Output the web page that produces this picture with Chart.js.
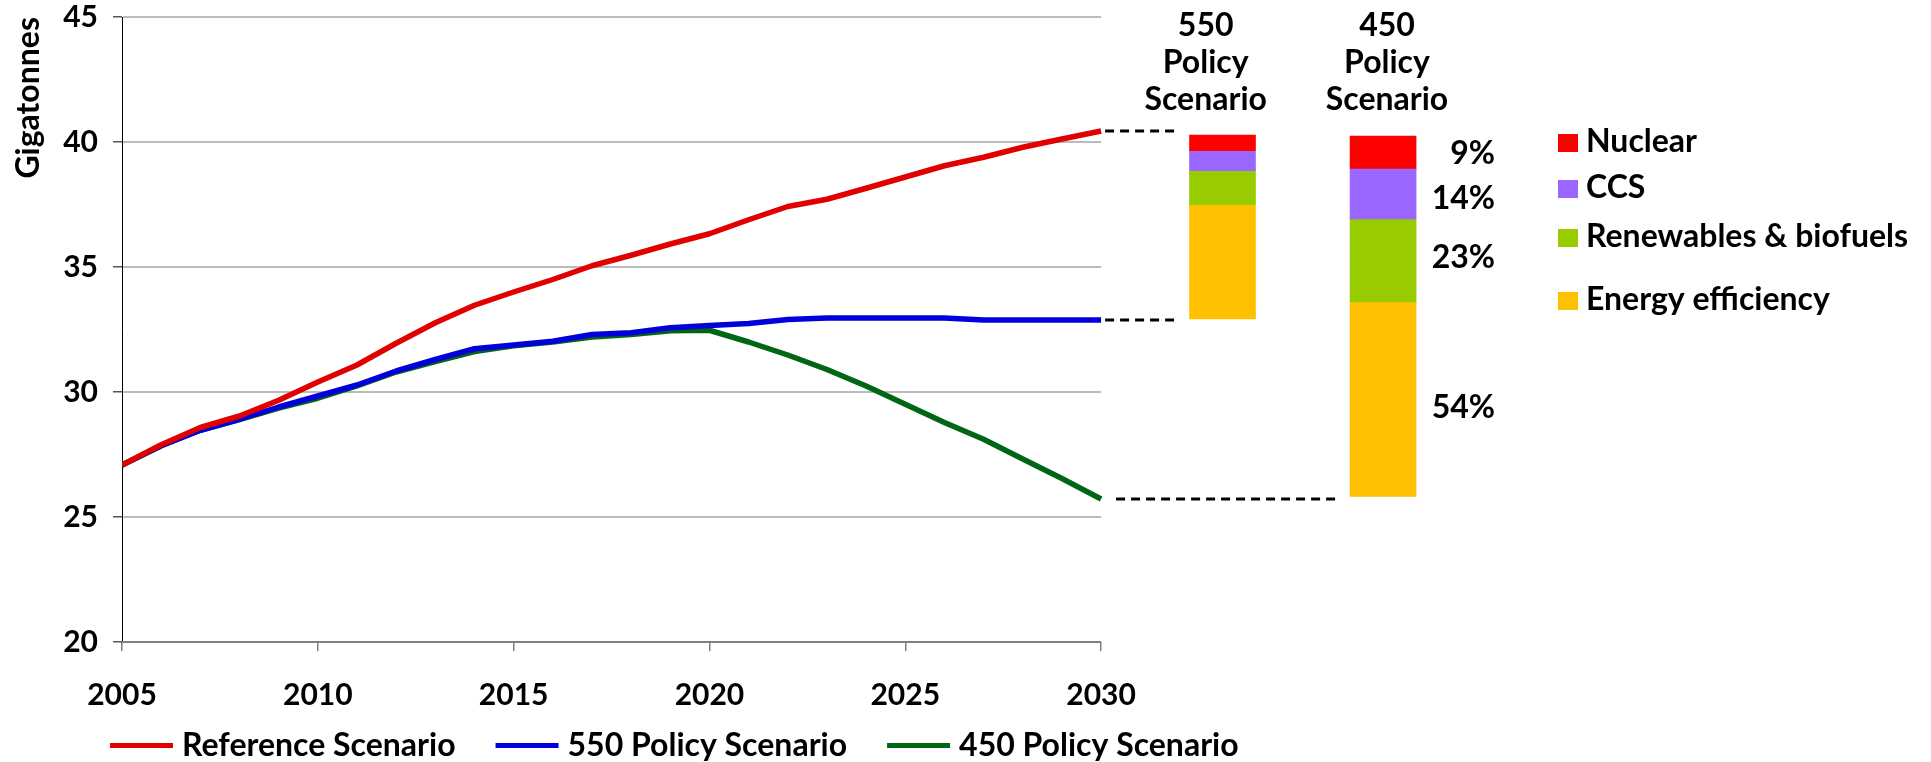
<!DOCTYPE html>
<html>
<head>
<meta charset="utf-8">
<script src="https://cdn.jsdelivr.net/npm/chart.js@4.4.1/dist/chart.umd.min.js"></script>
<style>
  html, body { margin: 0; padding: 0; background: #fff; }
  #wrap { width: 1931px; height: 762px; }
</style>
</head>
<body>
<div id="wrap"><canvas id="c" width="1931" height="762"></canvas></div>
<script>
// Energy-related CO2 emissions, Gt
const years = [2005, 2006, 2007, 2008, 2009, 2010, 2011, 2012, 2013, 2014, 2015, 2016, 2017,
               2018, 2019, 2020, 2021, 2022, 2023, 2024, 2025, 2026, 2027, 2028, 2029, 2030];
const referenceScenario = [27.08, 27.89, 28.58, 29.04, 29.67, 30.40, 31.08, 31.95, 32.77, 33.47, 34.00, 34.50, 35.05,
                           35.47, 35.92, 36.33, 36.89, 37.42, 37.71, 38.15, 38.60, 39.05, 39.39, 39.79, 40.12, 40.44];
const policy550 = [27.08, 27.85, 28.47, 28.91, 29.40, 29.84, 30.28, 30.84, 31.30, 31.73, 31.88, 32.03, 32.30,
                   32.37, 32.57, 32.66, 32.74, 32.90, 32.96, 32.96, 32.96, 32.96, 32.88, 32.88, 32.88, 32.88];
const policy450 = [27.08, 27.85, 28.47, 28.90, 29.36, 29.75, 30.24, 30.80, 31.22, 31.62, 31.85, 32.00, 32.20,
                   32.30, 32.45, 32.47, 32.00, 31.48, 30.90, 30.24, 29.51, 28.78, 28.11, 27.32, 26.54, 25.72];
const seriesNames = ['Reference Scenario', '550 Policy Scenario', '450 Policy Scenario'];

// 2030 abatement by measure (top to bottom of each bar)
const wedgeNames = ['Nuclear', 'CCS', 'Renewables & biofuels', 'Energy efficiency'];
const savings550 = [0.63, 0.80, 1.36, 4.57];      // Gt
const share450 = [9, 14, 23, 54];                  // % of 450 savings
const total450 = 14.42;                            // Gt
const barBase = [32.92, 25.82];                    // Gt, bottom of each bar
const barTitles = [['550', 'Policy', 'Scenario'], ['450', 'Policy', 'Scenario']];

// y axis ticks
const Y_MIN = 20, Y_MAX = 45, Y_STEP = 5;
const X_STEP = 5;

// ---- styling / layout ----
const FONT = 'Lato, "Open Sans", sans-serif';
const WORD_FONT = 'bold 32px ' + FONT;
const lineColors = ['#E00000', '#0000DD', '#006614'];
const wedgeColors = ['#FF0000', '#9966FF', '#99CC00', '#FFC000'];
const BAR_X = [2033.1, 2037.2];        // bar slots on the year axis
const HEAD_X = [2032.67, 2037.3];      // header centres on the year axis
const BAR_W = 66;

function stackRanges(base, amounts) {
  const out = new Array(amounts.length);
  let lo = base;
  for (let i = amounts.length - 1; i >= 0; i--) {
    out[i] = [lo, lo + amounts[i]];
    lo += amounts[i];
  }
  return out;
}
const ranges550 = stackRanges(barBase[0], savings550);
const ranges450 = stackRanges(barBase[1], share450.map(p => p / 100 * total450));

const lineSeries = [referenceScenario, policy550, policy450];
const lineDatasets = lineSeries.map((vals, k) => ({
  type: 'line',
  label: seriesNames[k],
  data: years.map((yr, i) => ({ x: yr, y: vals[i] })),
  borderColor: lineColors[k],
  backgroundColor: lineColors[k],
  borderWidth: 5.5,
  pointRadius: 0,
  tension: 0,
  fill: false,
  borderJoinStyle: 'round'
}));
const barDatasets = wedgeNames.map((name, i) => ({
  type: 'bar',
  label: name,
  data: [{ x: BAR_X[0], y: ranges550[i] }, { x: BAR_X[1], y: ranges450[i] }],
  backgroundColor: wedgeColors[i],
  borderWidth: 0,
  barThickness: BAR_W,
  grouped: false
}));

const decor = {
  id: 'decor',
  beforeDatasetsDraw(chart) {
    const { ctx, chartArea, scales: { x, y } } = chart;
    const xEnd = x.getPixelForValue(years[years.length - 1]);
    ctx.save();
    ctx.strokeStyle = '#A6A6A6';
    ctx.lineWidth = 1.5;
    for (let v = Y_MIN + Y_STEP; v <= Y_MAX; v += Y_STEP) {
      const py = y.getPixelForValue(v);
      ctx.beginPath();
      ctx.moveTo(chartArea.left + 1, py);
      ctx.lineTo(xEnd, py);
      ctx.stroke();
    }
    ctx.strokeStyle = '#808080';
    ctx.lineWidth = 2;
    const pb = y.getPixelForValue(Y_MIN);
    ctx.beginPath();
    ctx.moveTo(chartArea.left, pb);
    ctx.lineTo(xEnd, pb);
    ctx.stroke();
    ctx.restore();
  },
  afterDatasetsDraw(chart) {
    const { ctx, scales: { x, y } } = chart;
    const xEnd = x.getPixelForValue(years[years.length - 1]);
    const last = years.length - 1;
    const left550 = x.getPixelForValue(BAR_X[0]) - BAR_W / 2;
    const left450 = x.getPixelForValue(BAR_X[1]) - BAR_W / 2;
    ctx.save();
    ctx.strokeStyle = '#000';
    ctx.lineWidth = 3;
    ctx.setLineDash([9, 6]);
    const dash = (v, x0, x1) => {
      const py = y.getPixelForValue(v);
      ctx.beginPath(); ctx.moveTo(x0, py); ctx.lineTo(x1, py); ctx.stroke();
    };
    dash(referenceScenario[last], xEnd + 4, left550 - 12);
    dash(policy550[last], xEnd + 4, left550 - 12);
    dash(policy450[last], xEnd + 15, left450 - 12);
    ctx.restore();
  },
  afterDraw(chart) {
    const { ctx, scales: { x, y } } = chart;
    ctx.save();
    ctx.fillStyle = '#000';
    ctx.font = WORD_FONT;
    ctx.textBaseline = 'alphabetic';

    // scenario headers over the bars
    ctx.textAlign = 'center';
    const headBase = [36, 73, 110];
    barTitles.forEach((lines, b) => {
      const cx = x.getPixelForValue(HEAD_X[b]);
      lines.forEach((t, j) => ctx.fillText(t, cx, headBase[j]));
    });

    // shares beside the 450 bar
    ctx.textAlign = 'right';
    const pctRight = x.getPixelForValue(BAR_X[1]) + BAR_W / 2 + 79;
    const pctNudge = [1, 4, -3, 8];
    ranges450.forEach((r, i) => {
      const mid = (y.getPixelForValue(r[0]) + y.getPixelForValue(r[1])) / 2;
      ctx.fillText(share450[i] + '%', pctRight, mid + 11 + pctNudge[i]);
    });

    // measure legend (right)
    ctx.textAlign = 'left';
    const rowTop = [134, 180, 229, 292];
    wedgeNames.forEach((name, i) => {
      ctx.fillStyle = wedgeColors[i];
      ctx.fillRect(1558, rowTop[i], 20, 18);
      ctx.fillStyle = '#000';
      ctx.fillText(name, 1586, rowTop[i] + 18);
    });

    // series legend (bottom)
    let cx = 110;
    const cy = 745.5;
    seriesNames.forEach((name, k) => {
      ctx.fillStyle = lineColors[k];
      ctx.fillRect(cx, cy - 2.5, 63, 5);
      cx += 63 + 9;
      ctx.fillStyle = '#000';
      ctx.fillText(name, cx, 756);
      cx += ctx.measureText(name).width + 40;
    });
    ctx.restore();
  }
};

new Chart(document.getElementById('c'), {
  type: 'line',
  data: { datasets: [...lineDatasets, ...barDatasets] },
  options: {
    responsive: false,
    animation: false,
    layout: { padding: { top: 17, right: 11, left: 0, bottom: 0 } },
    plugins: { legend: { display: false }, tooltip: { enabled: false } },
    scales: {
      x: {
        type: 'linear',
        min: 2005,
        max: 2050.91,
        offset: false,
        grid: { offset: false, drawOnChartArea: false, drawTicks: true, tickLength: 9, color: '#808080', lineWidth: 1.5 },
        border: { display: false },
        ticks: {
          stepSize: X_STEP,
          autoSkip: false,
          maxRotation: 0,
          padding: 29,
          color: '#000',
          font: { family: FONT, size: 30, weight: 'bold', lineHeight: 1 },
          callback: v => String(v)
        },
        afterBuildTicks(s) { s.ticks = s.ticks.filter(t => t.value >= 2005 && t.value <= 2030); },
        afterFit(s) { s.height = 120; s.paddingLeft = 0; s.paddingRight = 0; }
      },
      y: {
        min: Y_MIN,
        max: Y_MAX,
        grid: { drawOnChartArea: false, drawTicks: true, tickLength: 9, color: '#555', lineWidth: 1.5 },
        border: { display: true, color: '#000', width: 1 },
        ticks: {
          stepSize: Y_STEP,
          padding: 15,
          color: '#000',
          font: { family: FONT, size: 30, weight: 'bold', lineHeight: 1 }
        },
        title: {
          display: true,
          text: 'Gigatonnes',
          align: 'end',
          color: '#000',
          padding: { top: 9, bottom: 0 },
          font: { family: FONT, size: 32, weight: 'bold' }
        },
        afterFit(s) { s.width = 122; s.paddingTop = 0; s.paddingBottom = 0; }
      }
    }
  },
  plugins: [decor]
});
</script>
</body>
</html>
